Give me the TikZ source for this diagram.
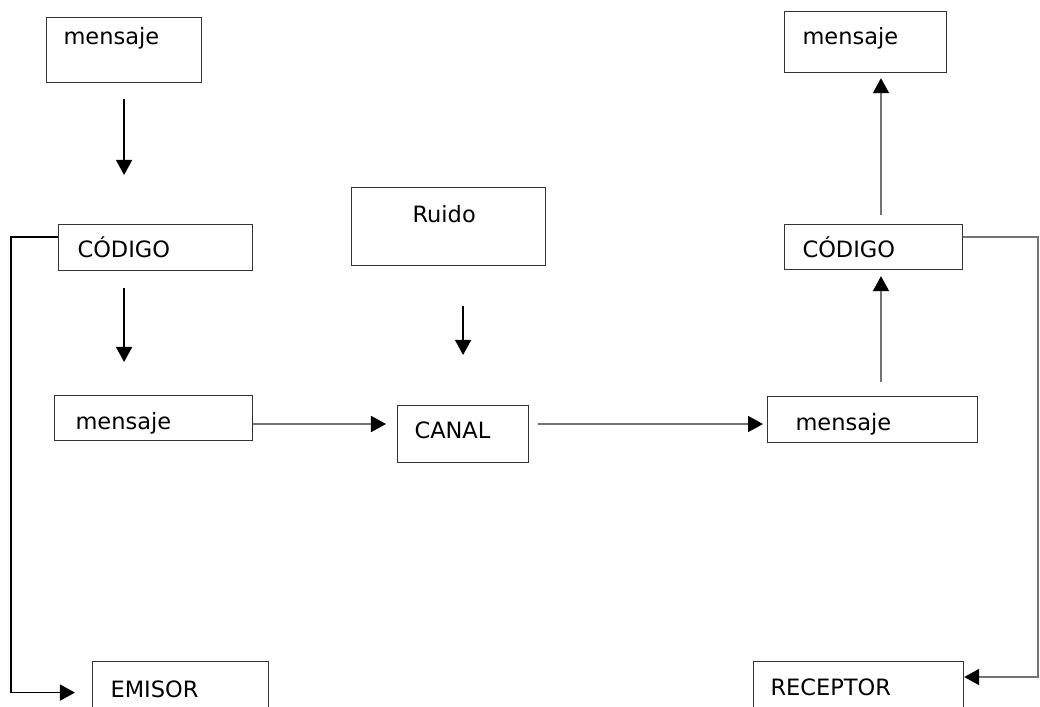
\documentclass[tikz,border=0pt]{standalone}
\usepackage{fontspec}
\setmainfont{DejaVu Sans}
\usetikzlibrary{arrows.meta}
\tikzstyle{caja} = [draw=black!80, line width=0.8pt, anchor=north west, inner ysep=0pt, align=left, font=\fontsize{16}{19}\selectfont]
\tikzstyle{flecha} = [line width=1pt, -{Triangle[length=3.75mm, width=4mm, color=black]}]
\tikzstyle{gris} = [draw=black!55, line width=1.2pt]

\begin{document}
\begin{tikzpicture}[x=0.025cm, y=-0.025cm]
  \useasboundingbox (0,0) rectangle (1040,706);

  % Nodes
  \node (msgA) [caja, inner xsep=0.425cm, text width=3.025cm, text height=0.675cm, text depth=0.95cm] at (46,17) {mensaje};
  \node (codA) [caja, inner xsep=0.475cm, text width=3.9cm, text height=0.825cm, text depth=0.325cm] at (58,224) {CÓDIGO};
  \node (msgB) [caja, inner xsep=0.525cm, text width=3.9cm, text height=0.85cm, text depth=0.275cm] at (54,395) {mensaje};
  \node (ruido) [caja, inner xsep=1.525cm, text width=1.8cm, text height=0.875cm, text depth=1.075cm] at (351,187) {Ruido};
  \node (canal) [caja, inner xsep=0.425cm, text width=2.425cm, text height=0.825cm, text depth=0.6cm] at (397,405) {CANAL};
  \node (msgR) [caja, inner xsep=0.7cm, text width=3.85cm, text height=0.85cm, text depth=0.3cm] at (767,396) {mensaje};
  \node (codR) [caja, inner xsep=0.45cm, text width=3.55cm, text height=0.825cm, text depth=0.3cm] at (784,224) {CÓDIGO};
  \node (msgC) [caja, inner xsep=0.45cm, text width=3.15cm, text height=0.825cm, text depth=0.7cm] at (784,11) {mensaje};
  \node (emisor) [caja, inner xsep=0.45cm, text width=3.5cm, text height=0.9cm, text depth=0.65cm] at (92,661) {EMISOR};
  \node (receptor) [caja, inner xsep=0.425cm, text width=4.4cm, text height=0.85cm, text depth=0.65cm] at (753,661) {RECEPTOR};

  \coordinate (ejeCanal) at (0,424);
  \coordinate (ejeDer) at (881,0);
  \coordinate (retroIzq) at (11,237);
  \coordinate (retroDer) at (1038,237);
  \coordinate (retroDerAbajo) at (1038,677);

  % Arrows
  \draw[flecha, shorten <=0.4cm, shorten >=1.225cm] (msgA.south) -- (msgA.south |- codA.north);
  \draw[flecha, shorten <=0.425cm, shorten >=0.825cm] (msgA.south |- codA.south) -- (msgA.south |- msgB.north);
  \draw[flecha, shorten <=1cm, shorten >=1.25cm] (canal.north |- ruido.south) -- (canal.north);
  \draw[flecha, gris, shorten >=0.275cm] (msgB.east |- ejeCanal) -- (canal.west |- ejeCanal);
  \draw[flecha, gris, shorten <=0.225cm, shorten >=0.1cm] (canal.east |- ejeCanal) -- (msgR.west |- ejeCanal);
  \draw[flecha, gris, shorten <=0.35cm, shorten >=0.15cm] (ejeDer |- msgR.north) -- (ejeDer |- codR.south);
  \draw[flecha, gris, shorten <=0.225cm, shorten >=0.125cm] (ejeDer |- codR.north) -- (ejeDer |- msgC.south);
  \draw[flecha, shorten >=0.425cm] (codA.west |- retroIzq) -- (retroIzq) |- (emisor.west);
  \draw[flecha, gris] (codR.east |- retroDer) -- (retroDer) -- (retroDerAbajo) -- (receptor.east |- retroDerAbajo);
\end{tikzpicture}
\end{document}
